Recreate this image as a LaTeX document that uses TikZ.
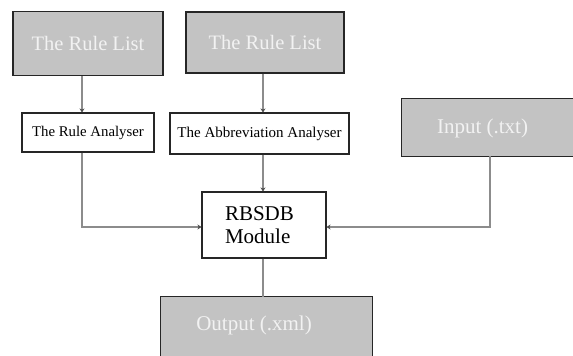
\documentclass[tikz,border=0pt]{standalone}
\usepackage{fontspec}
\setmainfont{Liberation Serif}
\usetikzlibrary{arrows.meta,calc}
\definecolor{boxgray}{RGB}{195,195,195}
\definecolor{txtgray}{RGB}{242,242,242}
\definecolor{linegray}{RGB}{140,140,140}
\begin{document}
\begin{tikzpicture}[x=1pt,y=-1pt,
  graybox/.style={draw=black!85,line width=1.1pt,fill=boxgray,text=txtgray,inner sep=0pt,font=\fontsize{20.5}{24}\selectfont},
  openbox/.style={fill=boxgray,inner sep=0pt},
  boxedge/.style={draw=black!85,line width=1.3pt},
  whitebox/.style={draw=black!85,line width=1.1pt,fill=white,text=black,inner sep=0pt},
  conn/.style={draw=linegray,line width=1.6pt},
  arr/.style={conn,-{Stealth[length=4pt,width=5pt,color=black!70]}}]
\useasboundingbox (0,0) rectangle (573,356);
% boxes
\node[graybox,minimum width=150,minimum height=64] (rl1) at (88,43.5) {The Rule List};
\node[graybox,minimum width=158,minimum height=61] (rl2) at (265,42.5) {The Rule List};
\node[whitebox,minimum width=132,minimum height=39,font=\fontsize{14.8}{17}\selectfont] (ra) at (88,132.5) {The Rule Analyser};
\node[whitebox,minimum width=179,minimum height=41,font=\fontsize{15}{17}\selectfont] (aa) at (259.5,133.5) {The Abbreviation Analyser};
\node[openbox,minimum width=172,minimum height=57] (in) at (488,127.5) {};
\draw[boxedge] (in.north east) -- (in.north west) -- (in.south west) -- (in.south east);
\node[text=txtgray,font=\fontsize{21}{24}\selectfont] (intext) at (482.5,128) {Input (.txt)};
\node[whitebox,minimum height=66,text width=78,inner xsep=23,align=left,font=\fontsize{21}{23.5}\selectfont] (rb) at (264,225) {RBSDB\\Module};
\node[openbox,minimum width=211,minimum height=60] (out) at (266.5,327) {};
\draw[boxedge] (out.south west) -- (out.north west) -- (out.north east) -- (out.south east);
\node[text=txtgray,font=\fontsize{21}{24}\selectfont] (outtext) at (254,325) {Output (.xml)};
% connectors
\draw[arr] (rl1.south -| 82,0) -- (ra.north -| 82,0);
\draw[arr] (rl2.south -| 263,0) -- (aa.north -| 263,0);
\draw[arr] (ra.south -| 82,0) |- (rb.west |- 0,227);
\draw[arr] (aa.south -| 263,0) -- (rb.north -| 263,0);
\draw[arr] (in.south -| 490,0) |- (rb.east |- 0,227);
\draw[conn] (rb.south -| 263,0) -- (out.north -| 263,0);
\end{tikzpicture}
\end{document}
